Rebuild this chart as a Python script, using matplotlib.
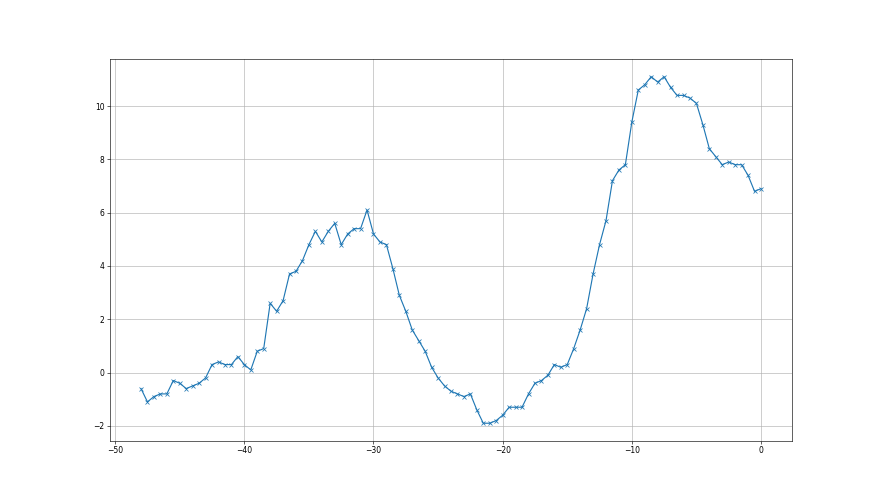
import numpy as np
import matplotlib
matplotlib.use("Agg")
import matplotlib.pyplot as plt

x_start = -48.0
x_step = 0.5
values = [
    -0.6, -1.1, -0.9, -0.8, -0.8, -0.3, -0.4, -0.6, -0.5, -0.4,
    -0.2, 0.3, 0.4, 0.3, 0.3, 0.6, 0.3, 0.1, 0.8, 0.9,
    2.6, 2.3, 2.7, 3.7, 3.8, 4.2, 4.8, 5.3, 4.9, 5.3,
    5.6, 4.8, 5.2, 5.4, 5.4, 6.1, 5.2, 4.9, 4.8, 3.9,
    2.9, 2.3, 1.6, 1.2, 0.8, 0.2, -0.2, -0.5, -0.7, -0.8,
    -0.9, -0.8, -1.4, -1.9, -1.9, -1.8, -1.6, -1.3, -1.3, -1.3,
    -0.8, -0.4, -0.3, -0.1, 0.3, 0.2, 0.3, 0.9, 1.6, 2.4,
    3.7, 4.8, 5.7, 7.2, 7.6, 7.8, 9.4, 10.6, 10.8, 11.1,
    10.9, 11.1, 10.7, 10.4, 10.4, 10.3, 10.1, 9.3, 8.4, 8.1,
    7.8, 7.9, 7.8, 7.8, 7.4, 6.8, 6.9,
]
x = x_start + x_step * np.arange(len(values))

fig, ax = plt.subplots(figsize=(16, 9), dpi=55)
ax.plot(x, values, marker="x")
ax.grid(True)
fig.savefig("out.png", dpi=55)
